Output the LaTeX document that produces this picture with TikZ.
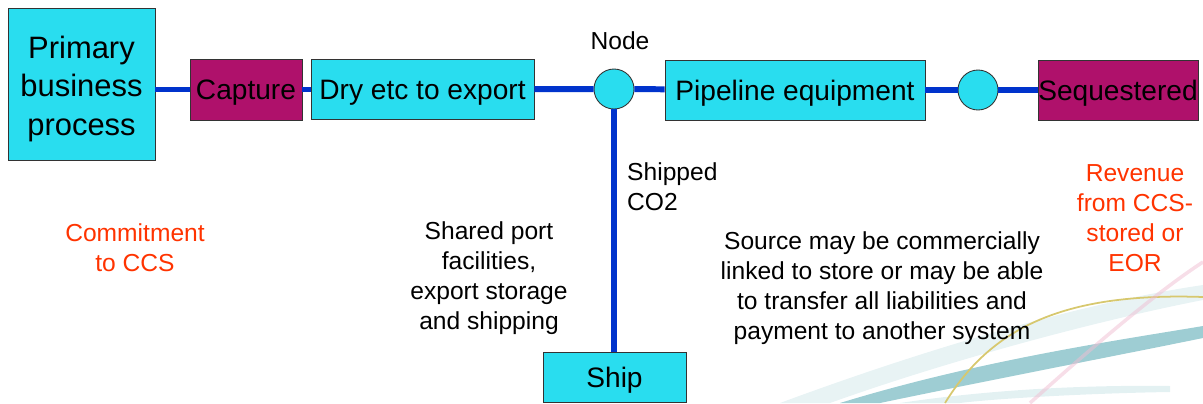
\documentclass[tikz,border=0pt]{standalone}
\usepackage{fontspec}
\setmainfont{Liberation Sans}
\usetikzlibrary{positioning}
\definecolor{boxcyan}{RGB}{41,221,239}
\definecolor{boxplum}{RGB}{175,17,107}
\definecolor{pipeblue}{RGB}{0,51,204}
\definecolor{notered}{RGB}{255,51,0}
\definecolor{swteal}{RGB}{70,160,170}
\definecolor{swgold}{RGB}{215,200,110}
\definecolor{swpink}{RGB}{240,190,210}
\begin{document}
\begin{tikzpicture}[
  x=0.02cm, y=-0.02cm,
  pipe/.style={draw=pipeblue, line width=3.4pt},
  unit/.style={draw=black!80, line width=0.5pt, fill=boxcyan, align=center, inner sep=0pt, text height=15pt, text depth=3.5pt, font=\fontsize{16}{19}\selectfont},
  stage/.style={unit, fill=boxplum},
  joint/.style={circle, draw=black!80, line width=0.5pt, fill=boxcyan, minimum size=0.8cm, inner sep=0pt},
  note/.style={align=center, font=\fontsize{14}{17}\selectfont},
  remark/.style={note, text=notered}
]
\useasboundingbox (0,0) rectangle (1203,403);

% Background swooshes
\fill[swteal!25, opacity=0.5] (780,403) .. controls (950,340) and (1100,300) .. (1203,285) -- (1203,300) .. controls (1100,320) and (950,360) .. (830,403) -- cycle;
\fill[swteal!70, opacity=0.75] (840,403) .. controls (980,360) and (1120,340) .. (1203,326) -- (1203,338) .. controls (1120,355) and (990,380) .. (880,403) -- cycle;
\fill[swteal!25, opacity=0.6] (900,403) .. controls (1000,388) and (1100,385) .. (1170,386) -- (1170,392) .. controls (1100,393) and (1000,398) .. (960,403) -- cycle;
\draw[swgold, line width=1pt] (945,403) .. controls (990,330) and (1060,292) .. (1203,297);
\draw[swpink, line width=2pt, opacity=0.5] (1030,403) .. controls (1100,340) and (1160,290) .. (1203,262);

% Main chain
\node[unit, minimum width=2.94cm, minimum height=3.04cm, text height=62.4pt, text depth=, font=\fontsize{17.6}{22}\selectfont] (primary) at (81.5,84) {Primary\\business\\process};
\node[stage, minimum width=2.24cm, minimum height=1.22cm] (capture) at (246,89.5) {Capture};
\node[unit, minimum width=4.46cm, minimum height=1.2cm] (dry) at (422.5,89.5) {Dry etc to export};
\node[joint] (hub) at (614,89) {};
\node[unit, minimum width=5.2cm, minimum height=1.2cm] (pipeline) at (795,90) {Pipeline equipment};
\node[joint] (valve) at (978,90) {};
\node[stage, minimum width=3.2cm, minimum height=1.2cm] (seq) at (1118,90) {Sequestered};
\node[unit, minimum width=2.86cm, minimum height=1.0cm] (ship) at (614.5,377) {Ship};

\draw[pipe] (primary.east |- capture) -- (capture.west);
\draw[pipe] (capture) -- (dry);
\draw[pipe] (dry) -- (hub);
\draw[pipe] (hub) -- (pipeline);
\draw[pipe] (pipeline) -- (valve);
\draw[pipe] (valve) -- (seq);
\draw[pipe] (hub.south) -- (hub.south |- ship.north);

% Labels
\node[note] (hublabel) at (620,41) {Node};
\node[note, align=left, anchor=west] (shipped) at (621,187) {Shipped\\CO2};
\node[note] (port) at (489,278) {Shared port\\facilities,\\export storage\\and shipping};
\node[note] (source) at (882,288) {Source may be commercially\\linked to store or may be able\\to transfer all liabilities and\\payment to another system};
\node[remark] (commit) at (135,248) {Commitment\\to CCS};
\node[remark] (revenue) at (1135,218) {Revenue\\from CCS-\\stored or\\EOR};
\end{tikzpicture}
\end{document}
